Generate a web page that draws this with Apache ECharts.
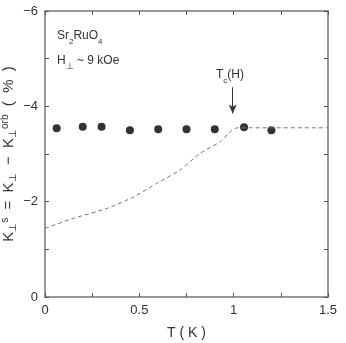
<!DOCTYPE html>
<html>
<head>
<meta charset="utf-8">
<script src="https://cdn.jsdelivr.net/npm/echarts@6/dist/echarts.min.js"></script>
<style>
  html, body { margin: 0; padding: 0; background: #fff; }
  #chart { width: 346px; height: 343px; }
</style>
</head>
<body>
<div id="chart"></div>
<script>
// measured points (T in K, Knight shift in %)
var pointT = [0.062, 0.20, 0.30, 0.45, 0.60, 0.75, 0.90, 1.055, 1.20]
var pointK = [-3.54, -3.57, -3.57, -3.50, -3.52, -3.52, -3.52, -3.56, -3.50]
// dashed curve
var curveT = [0, 0.15, 0.33, 0.47, 0.59, 0.715, 0.82, 0.93, 0.99, 1.02, 1.5]
var curveK = [-1.44, -1.65, -1.86, -2.10, -2.38, -2.66, -3.01, -3.26, -3.50, -3.55, -3.55]
var xTickLabels = ['0', '0.5', '1', '1.5']
var yTickLabels = ['−6', '−4', '−2', '0']

var font = 'Liberation Sans, Arial, sans-serif'
var frameColor = '#777'

var chart = echarts.init(document.getElementById('chart'))

function xLabel (v) {
  var s = String(Math.round(v * 100) / 100)
  return xTickLabels.indexOf(s) >= 0 ? s : ''
}
function yLabel (v) {
  var s = v === 0 ? '0' : '−' + Math.abs(v)
  return yTickLabels.indexOf(s) >= 0 ? s : ''
}

var frameLine = { show: true, onZero: false, lineStyle: { color: frameColor, width: 1.5 } }
var frameTick = { show: true, inside: true, length: 4, lineStyle: { color: '#555' } }

var option = {
  animation: false,
  grid: { left: 45, right: 18, top: 11, bottom: 46, containLabel: false, outerBoundsMode: 'none' },
  xAxis: [
    {
      type: 'value', min: 0, max: 1.5, interval: 0.25,
      name: 'T ( K )', nameLocation: 'middle', nameGap: 29, nameMoveOverlap: false,
      nameTextStyle: { color: '#333', fontSize: 14, fontFamily: font },
      axisLine: frameLine,
      axisTick: frameTick,
      axisLabel: { color: '#333', fontSize: 13, fontFamily: font, margin: 7, formatter: xLabel },
      splitLine: { show: false }
    },
    {
      type: 'value', min: 0, max: 1.5, interval: 0.25, position: 'top',
      axisLine: frameLine,
      axisTick: frameTick,
      axisLabel: { show: false },
      splitLine: { show: false }
    }
  ],
  yAxis: [
    {
      type: 'value', min: -6, max: 0, interval: 1, inverse: true,
      name: '{k|K}{sub|⊥}{sup|s}{k|  =  K}{sub|⊥}{k|  −  K}{sub|⊥}{sup|orb}{k|  (  %  )}',
      nameLocation: 'middle', nameGap: 25, nameMoveOverlap: false,
      nameTextStyle: {
        fontFamily: font,
        rich: {
          k: { fontSize: 15, color: '#333', fontFamily: font, lineHeight: 22, verticalAlign: 'middle' },
          sub: { fontSize: 10, color: '#333', fontFamily: font, lineHeight: 22, verticalAlign: 'bottom', padding: [0, 0, 2, 0] },
          sup: { fontSize: 10, color: '#333', fontFamily: font, lineHeight: 22, verticalAlign: 'top', padding: [2, 0, 0, 0] }
        }
      },
      axisLine: frameLine,
      axisTick: frameTick,
      axisLabel: { color: '#333', fontSize: 13, fontFamily: font, margin: 7, formatter: yLabel },
      splitLine: { show: false }
    },
    {
      type: 'value', min: -6, max: 0, interval: 1, inverse: true, position: 'right',
      axisLine: frameLine,
      axisTick: frameTick,
      axisLabel: { show: false },
      splitLine: { show: false }
    }
  ],
  series: [
    {
      type: 'line',
      data: curveT.map(function (t, i) { return [t, curveK[i]] }),
      symbol: 'none',
      smooth: 0.2,
      lineStyle: { color: '#777', width: 1, type: [4, 3] },
      markLine: {
        silent: true,
        symbol: ['none', 'arrow'],
        symbolSize: [6, 9],
        label: { show: false },
        lineStyle: { color: '#333', width: 1, type: 'solid' },
        data: [[{ coord: [0.995, -4.4] }, { coord: [0.995, -3.85] }]]
      }
    },
    {
      type: 'scatter',
      data: pointT.map(function (t, i) { return [t, pointK[i]] }),
      symbol: 'circle',
      symbolSize: 8,
      itemStyle: { color: '#000' }
    }
  ],
  graphic: [
    {
      type: 'text', left: 57, top: 30,
      style: {
        text: '{a|Sr}{s|2}{a|RuO}{s|4}',
        rich: {
          a: { fontSize: 12, fill: '#333', fontFamily: font, lineHeight: 16, verticalAlign: 'top' },
          s: { fontSize: 8, fill: '#333', fontFamily: font, lineHeight: 16, verticalAlign: 'bottom' }
        }
      }
    },
    {
      type: 'text', left: 57, top: 55,
      style: {
        text: '{a|H}{s|⊥}{a| ~ 9 kOe}',
        rich: {
          a: { fontSize: 12, fill: '#333', fontFamily: font, lineHeight: 16, verticalAlign: 'top' },
          s: { fontSize: 9, fill: '#333', fontFamily: font, lineHeight: 16, verticalAlign: 'bottom' }
        }
      }
    },
    {
      type: 'text', left: 216, top: 69,
      style: {
        text: '{a|T}{s|c}{a|(H)}',
        rich: {
          a: { fontSize: 12, fill: '#333', fontFamily: font, lineHeight: 16, verticalAlign: 'top' },
          s: { fontSize: 8, fill: '#333', fontFamily: font, lineHeight: 16, verticalAlign: 'bottom' }
        }
      }
    }
  ]
}

chart.setOption(option)
</script>
</body>
</html>
